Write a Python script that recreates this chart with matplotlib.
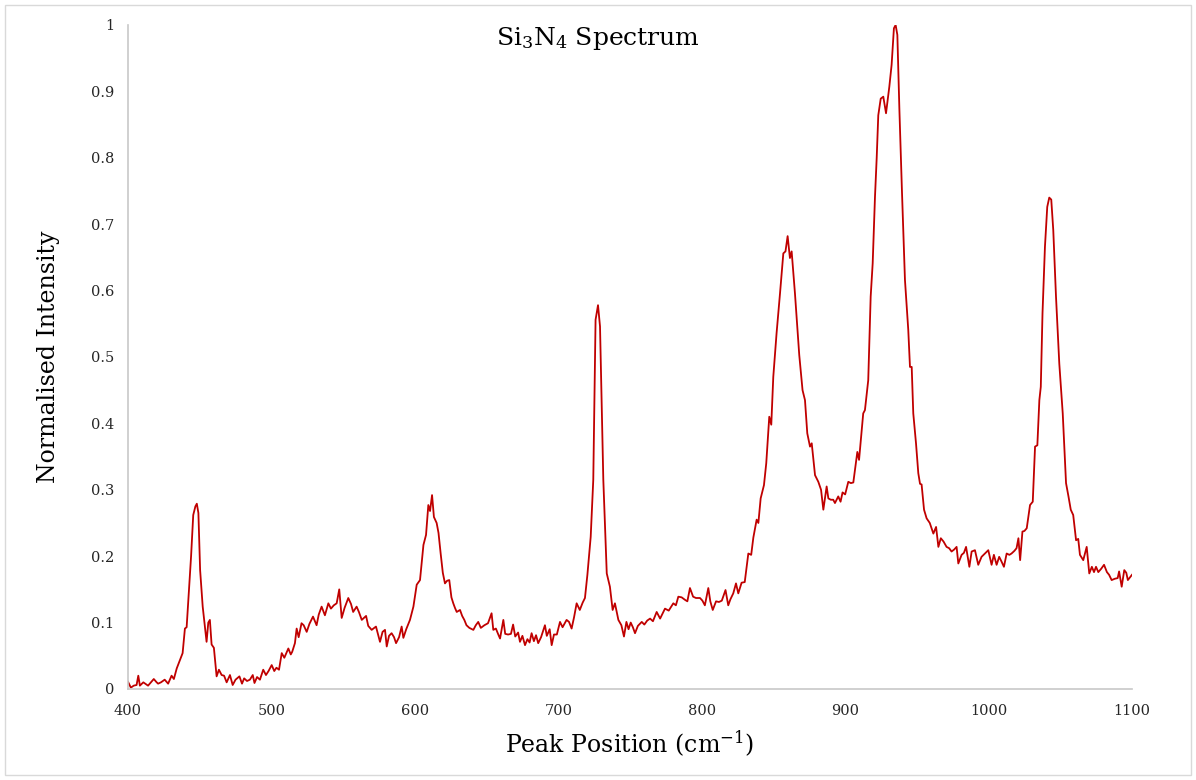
import matplotlib
matplotlib.use("Agg")
import matplotlib.pyplot as plt
from matplotlib.patches import Rectangle

# Raman shift (cm-1) and normalised intensity
shift = [
    400, 402, 404, 406, 407.2, 408.3, 410.7, 412, 414, 416, 418, 420, 421, 423, 425.6, 428,
    430.4, 432, 434, 436.3, 438.1, 439.7, 440.9, 442.5, 444, 445.5, 447, 448, 449.1, 450.3,
    452.1, 453.7, 454.8, 456, 457.1, 458.3, 459.9, 461.8, 463.4, 465.3, 467, 468.8, 471.1,
    473, 475, 477.7, 479.5, 481, 483, 485, 487, 488.2, 490, 492, 494.3, 496.2, 498, 500.2,
    502, 503.5, 505.3, 507.2, 509, 511.8, 513.5, 514.5, 516.4, 517.6, 519, 521, 522.5,
    524.6, 526.5, 529, 531.5, 533, 535, 537.3, 539.7, 541.5, 543.5, 545.5, 547.3, 549, 551,
    553.6, 555.5, 557, 559.4, 561, 563, 566, 567.5, 569.9, 572.9, 575.7, 577.5, 579.2,
    580.4, 582, 583.8, 585.5, 586.9, 589, 590.8, 592, 594, 596.6, 599, 601.3, 603.6, 606,
    607.8, 609.4, 610.6, 612, 613.3, 615.2, 616.5, 618, 619.5, 621, 622.5, 624, 625.5,
    626.8, 628, 629.2, 631.5, 633, 634.5, 636, 638, 640.8, 642.5, 644.2, 646, 648.5, 651,
    653.5, 654.7, 656.5, 658, 659.4, 661.7, 663, 665, 667, 668.5, 670, 672, 673.3, 675,
    676.8, 678.5, 680, 681.4, 683, 684.5, 686, 688, 690.7, 692, 694, 695.4, 697, 699,
    701.2, 703, 705.8, 707.5, 709.3, 711, 712.8, 715, 717, 718.6, 720.3, 722.6, 724.4,
    726, 727.7, 729.1, 731.4, 733.8, 736, 737.9, 739.5, 741.9, 744, 745.8, 747.5, 749,
    750.5, 752, 753.5, 755.5, 758.2, 760, 762, 764, 766, 768.6, 771, 774.4, 777, 780.2,
    782, 783.7, 786, 788.5, 790, 791.8, 794, 796, 798.8, 800.5, 802.2, 804.6, 806, 807.7,
    810, 812, 814, 816.6, 818.5, 820, 822, 823.9, 825.5, 827.8, 830, 832.5, 834.5, 836,
    838.3, 839.5, 841.1, 843.4, 845, 847.1, 848.5, 849.9, 852.2, 854.6, 856.9, 858.4,
    859.9, 861.5, 862.7, 865, 868, 870.3, 872, 873.6, 875.5, 876.7, 879, 881.3, 883.2,
    884.8, 887.1, 888.3, 890, 891.7, 892.9, 895.2, 896.8, 898.2, 900, 902.2, 904, 905.7,
    908.5, 909.7, 912.6, 913.8, 916.1, 917.8, 919.2, 920.8, 922, 923.1, 924.8, 926.6,
    928.5, 930.8, 932.4, 934, 935.2, 936.4, 937.8, 939.6, 941.7, 944, 945.2, 946.4, 947.5,
    949.4, 951, 952.2, 953.3, 955, 956.8, 959, 961.5, 963.4, 965, 966.7, 968.6, 970.7,
    972.5, 974.2, 976, 977.7, 978.9, 981.2, 982.8, 984.3, 986.6, 988.2, 990.5, 992.8,
    995.1, 997.5, 999.8, 1002.1, 1003.7, 1005.6, 1007.4, 1009, 1010.7, 1012.6, 1014.5,
    1016, 1018, 1019.5, 1020.8, 1022, 1023.6, 1025, 1026.6, 1028.9, 1030.8, 1032.4, 1034,
    1035.4, 1036.4, 1037.6, 1039.3, 1040.9, 1042.3, 1043.7, 1045.1, 1047, 1049.3, 1051.7,
    1054, 1055.7, 1057.3, 1059, 1061, 1062.5, 1063.7, 1066, 1068.4, 1070.2, 1072, 1073.5,
    1074.9, 1076.5, 1078.5, 1080.5, 1082.5, 1084, 1085.8, 1088, 1090, 1091, 1092.8,
    1094.6, 1096, 1097.1, 1100,
]
intensity = [
    0.011, 0.002, 0.005, 0.006, 0.020, 0.005, 0.010, 0.008, 0.005, 0.010, 0.015, 0.010,
    0.008, 0.010, 0.014, 0.008, 0.020, 0.015, 0.031, 0.044, 0.054, 0.091, 0.093, 0.149,
    0.200, 0.262, 0.275, 0.279, 0.265, 0.179, 0.124, 0.093, 0.071, 0.100, 0.104, 0.067,
    0.062, 0.019, 0.029, 0.021, 0.020, 0.010, 0.021, 0.006, 0.014, 0.019, 0.008, 0.016,
    0.012, 0.014, 0.021, 0.009, 0.018, 0.014, 0.029, 0.021, 0.027, 0.036, 0.027, 0.032,
    0.029, 0.054, 0.047, 0.061, 0.052, 0.056, 0.069, 0.091, 0.078, 0.099, 0.096, 0.086,
    0.098, 0.109, 0.096, 0.112, 0.124, 0.111, 0.129, 0.121, 0.126, 0.129, 0.150, 0.107,
    0.122, 0.137, 0.128, 0.116, 0.124, 0.116, 0.104, 0.110, 0.095, 0.089, 0.094, 0.071,
    0.086, 0.089, 0.064, 0.080, 0.084, 0.078, 0.069, 0.078, 0.094, 0.077, 0.090, 0.104,
    0.124, 0.157, 0.164, 0.217, 0.232, 0.277, 0.268, 0.292, 0.259, 0.250, 0.235, 0.204,
    0.175, 0.159, 0.163, 0.164, 0.138, 0.129, 0.122, 0.116, 0.119, 0.110, 0.104, 0.096,
    0.092, 0.089, 0.096, 0.101, 0.092, 0.096, 0.099, 0.114, 0.089, 0.091, 0.083, 0.076,
    0.104, 0.083, 0.082, 0.083, 0.097, 0.079, 0.085, 0.071, 0.080, 0.066, 0.075, 0.070,
    0.084, 0.072, 0.081, 0.069, 0.078, 0.096, 0.080, 0.090, 0.066, 0.082, 0.082, 0.101,
    0.093, 0.104, 0.101, 0.091, 0.108, 0.129, 0.119, 0.130, 0.137, 0.172, 0.229, 0.315,
    0.556, 0.578, 0.546, 0.315, 0.174, 0.154, 0.119, 0.129, 0.104, 0.096, 0.079, 0.101,
    0.090, 0.100, 0.093, 0.084, 0.095, 0.101, 0.097, 0.103, 0.106, 0.102, 0.116, 0.106,
    0.121, 0.118, 0.129, 0.126, 0.139, 0.138, 0.134, 0.132, 0.152, 0.139, 0.137, 0.137,
    0.133, 0.126, 0.152, 0.132, 0.119, 0.132, 0.131, 0.133, 0.149, 0.126, 0.135, 0.144,
    0.159, 0.144, 0.160, 0.161, 0.204, 0.202, 0.228, 0.255, 0.250, 0.287, 0.307, 0.340,
    0.410, 0.398, 0.470, 0.536, 0.596, 0.656, 0.659, 0.682, 0.649, 0.659, 0.596, 0.503,
    0.450, 0.435, 0.385, 0.365, 0.370, 0.322, 0.312, 0.300, 0.270, 0.305, 0.287, 0.285,
    0.285, 0.280, 0.290, 0.282, 0.296, 0.293, 0.312, 0.310, 0.311, 0.357, 0.345, 0.415,
    0.420, 0.465, 0.591, 0.641, 0.741, 0.800, 0.864, 0.889, 0.892, 0.867, 0.907, 0.940,
    0.995, 1.000, 0.985, 0.874, 0.750, 0.616, 0.541, 0.485, 0.485, 0.415, 0.370, 0.325,
    0.309, 0.308, 0.270, 0.257, 0.250, 0.234, 0.244, 0.214, 0.227, 0.222, 0.214, 0.212,
    0.207, 0.210, 0.214, 0.189, 0.202, 0.205, 0.214, 0.184, 0.207, 0.209, 0.187, 0.199,
    0.204, 0.209, 0.187, 0.202, 0.187, 0.199, 0.192, 0.184, 0.204, 0.202, 0.204, 0.208,
    0.212, 0.227, 0.194, 0.237, 0.238, 0.242, 0.277, 0.282, 0.365, 0.367, 0.435, 0.455,
    0.566, 0.666, 0.726, 0.740, 0.737, 0.691, 0.591, 0.490, 0.415, 0.310, 0.290, 0.270,
    0.262, 0.224, 0.226, 0.202, 0.194, 0.214, 0.174, 0.184, 0.176, 0.184, 0.176, 0.181,
    0.187, 0.176, 0.172, 0.164, 0.166, 0.167, 0.177, 0.154, 0.179, 0.175, 0.164, 0.172,
]
x_ticks = [400, 500, 600, 700, 800, 900, 1000, 1100]
y_ticks = [0, 0.1, 0.2, 0.3, 0.4, 0.5, 0.6, 0.7, 0.8, 0.9, 1]
y_tick_labels = ["0", "0.1", "0.2", "0.3", "0.4", "0.5", "0.6", "0.7", "0.8", "0.9", "1"]

plt.rcParams["font.family"] = ["DejaVu Serif"]
plt.rcParams["mathtext.fontset"] = "custom"
plt.rcParams["mathtext.rm"] = "DejaVu Serif"
plt.rcParams["mathtext.it"] = "DejaVu Serif:italic"

fig = plt.figure(figsize=(11.96, 7.8), dpi=100)
ax = fig.add_axes([0.107, 0.1167, 0.8395, 0.8513])

ax.plot(shift, intensity, color="#c00000", lw=1.3)

ax.set_xlim(400, 1100)
ax.set_ylim(0, 1)
ax.set_xticks(x_ticks)
ax.set_yticks(y_ticks)
ax.set_yticklabels(y_tick_labels)
ax.tick_params(length=0, labelsize=10.5, colors="#262626")
ax.tick_params(axis="y", pad=10)
ax.tick_params(axis="x", pad=11)

for side in ["top", "right"]:
    ax.spines[side].set_visible(False)
for side in ["left", "bottom"]:
    ax.spines[side].set_color("#c8c8c8")
    ax.spines[side].set_linewidth(1.2)

ax.set_xlabel("Peak Position (cm$^{-1}$)", fontsize=17, labelpad=8)
ax.set_ylabel("Normalised Intensity", fontsize=17, labelpad=22)

fig.text(0.5, 1 - 38 / 780, "Si$_3$N$_4$ Spectrum", fontsize=18,
         ha="center", va="center")

# light chart frame
fig.patches.append(Rectangle((5 / 1196, 5 / 780), 1 - 10 / 1196, 1 - 10 / 780,
                             transform=fig.transFigure, fill=False,
                             edgecolor="#d9d9d9", lw=1))

fig.savefig("out.png", dpi=100)
